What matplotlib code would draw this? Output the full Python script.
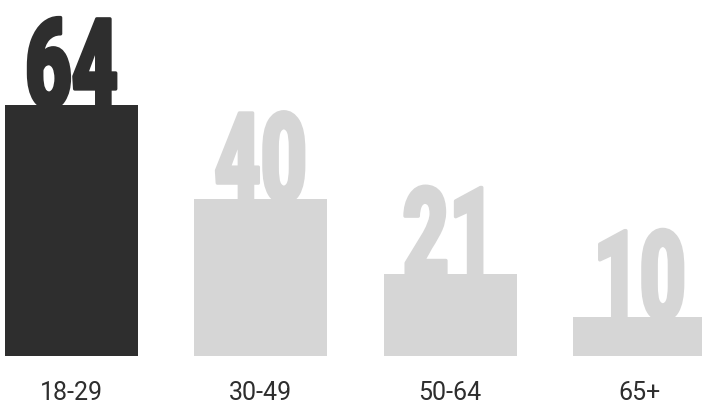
import numpy as np
import matplotlib
matplotlib.use("Agg")
import matplotlib.pyplot as plt
from matplotlib.patheffects import AbstractPathEffect
from matplotlib.transforms import Affine2D

# share of each age group
groups = ["18-29", "30-49", "50-64", "65+"]
values = [64, 40, 21, 10]

DARK = "#2e2e2e"
LIGHT = "#d6d6d6"


class Condensed(AbstractPathEffect):
    """Stretch glyphs tall and narrow (condensed look) and fatten them a bit."""

    def __init__(self, sx, sy, grow=0.0):
        super().__init__()
        self.sx = sx
        self.sy = sy
        self.grow = grow

    def draw_path(self, renderer, gc, tpath, affine, rgbFace=None):
        ext = tpath.get_extents()
        cx = (ext.x0 + ext.x1) / 2
        # baseline sits at y=0 in path units, so it stays put
        tr = Affine2D().translate(-cx, 0).scale(self.sx, self.sy).translate(cx, 0) + affine
        gc0 = renderer.new_gc()
        gc0.copy_properties(gc)
        if self.grow > 0:
            gc0.set_linewidth(self.grow)
            gc0.set_foreground(rgbFace)
            gc0.set_joinstyle("round")
        renderer.draw_path(gc0, tpath, tr, rgbFace)
        gc0.restore()


fig = plt.figure(figsize=(7.02, 4.06), dpi=100)
ax = fig.add_axes([0, 49 / 406, 1, 349 / 406])

x = np.arange(len(groups))
colors = [DARK] + [LIGHT] * (len(groups) - 1)
ax.bar(x, values, width=0.703, color=colors, zorder=2)

ax.set_xlim(-71.5 / 189.3, (702 - 71.5) / 189.3)
ax.set_ylim(0, 64 * 349 / 251)
ax.axis("off")

big = 68
for xi, v, c in zip(x, values, colors):
    ax.annotate(str(v), (xi, v), xytext=(0, -2), textcoords="offset points",
                ha="center", va="baseline", fontsize=big, fontweight="black",
                family="Roboto", color=c, zorder=1,
                path_effects=[Condensed(0.64 * 90 / big, 90 / big, grow=2.5)])

for xi, g in zip(x, groups):
    ax.text(xi, -0.123, g, transform=ax.get_xaxis_transform(),
            ha="center", va="baseline", fontsize=18, family="Roboto",
            color="#2e2e2e")

fig.savefig("out.png", dpi=100)
